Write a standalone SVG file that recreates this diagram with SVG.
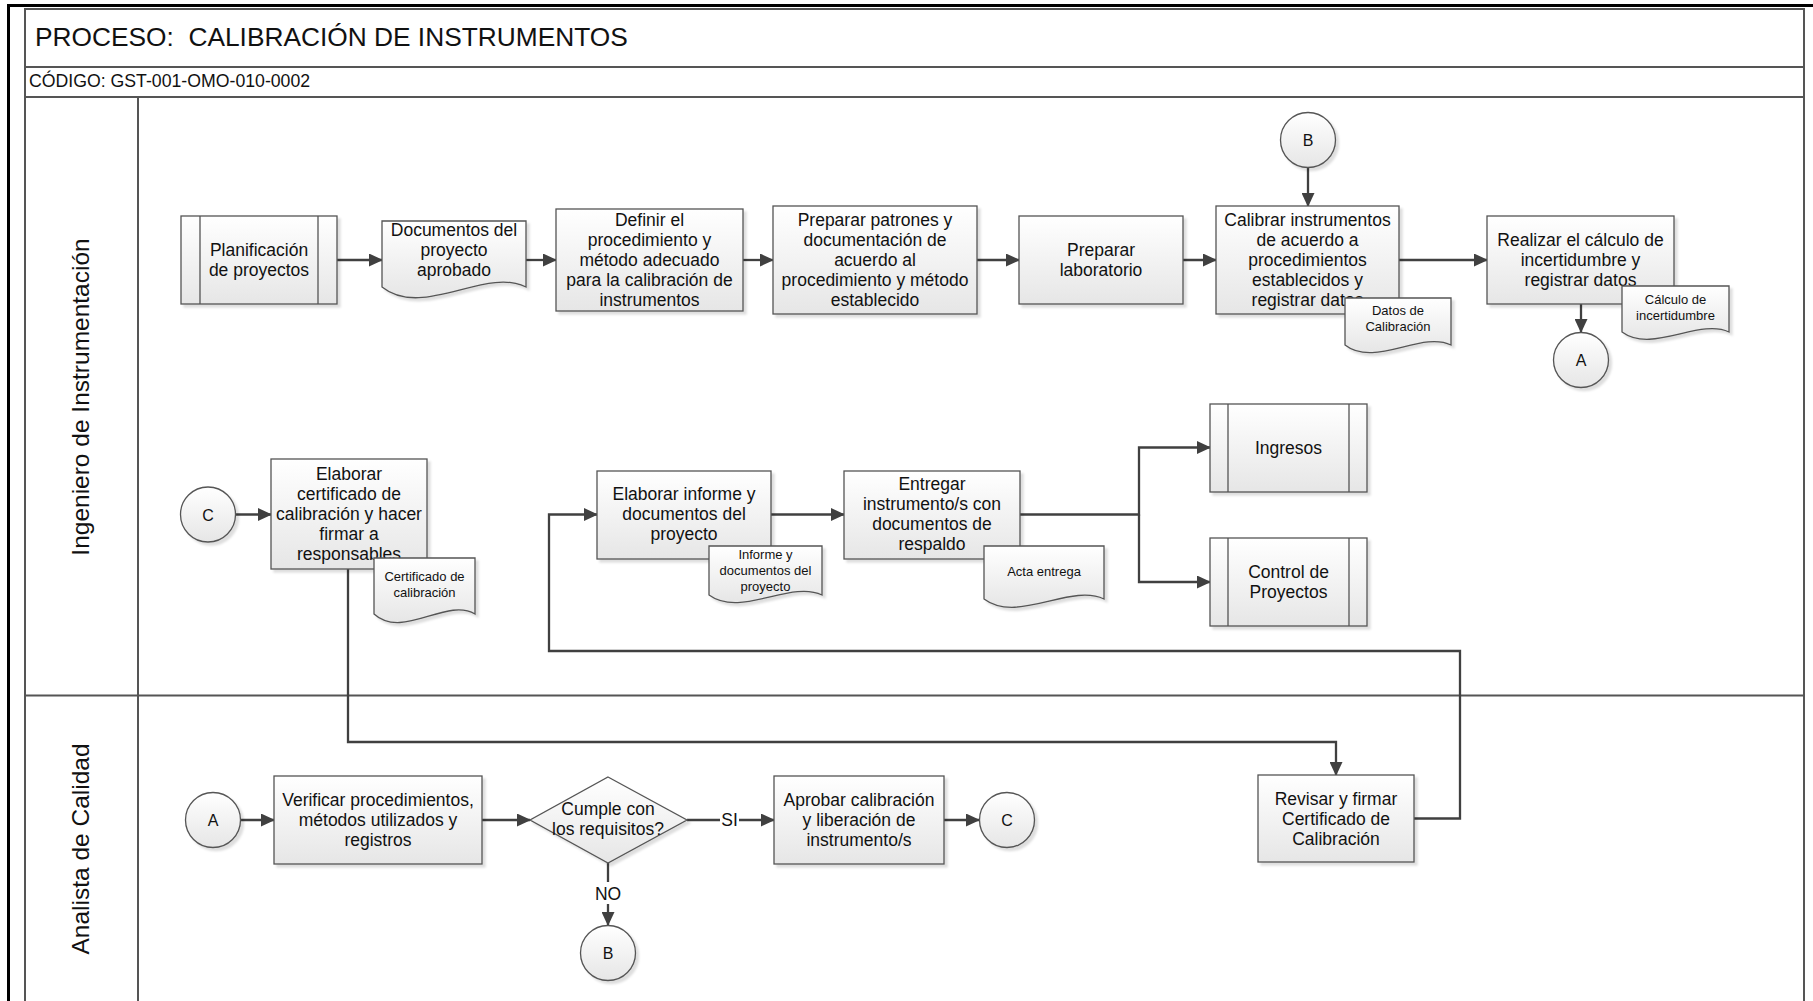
<svg xmlns="http://www.w3.org/2000/svg" width="1813" height="1001" viewBox="0 0 1813 1001">
  <style>
    text { font-family: "Liberation Sans", Arial, sans-serif; fill: #111; }
    .t { font-size: 17.5px; text-anchor: middle; }
    .s { font-size: 13px; text-anchor: middle; }
    .c { font-size: 16px; text-anchor: middle; }
    .lane { font-size: 24.5px; text-anchor: middle; }
    .box { fill: url(#nodeFill); stroke: #555; stroke-width: 1.3; filter: url(#shadow); }
    .inner { stroke: #555; stroke-width: 1.3; fill: none; }
    .frame { stroke: #555; stroke-width: 2; fill: none; }
    .conn { fill: none; stroke: #404040; stroke-width: 2.3; }
    .arr { marker-end: url(#arrow); }
  </style>
  <defs>
    <linearGradient id="nodeFill" x1="0" y1="0" x2="0" y2="1">
      <stop offset="0" stop-color="#ffffff"/>
      <stop offset="1" stop-color="#e6e6e6"/>
    </linearGradient>
    <linearGradient id="headFill" x1="0" y1="0" x2="0" y2="1">
      <stop offset="0" stop-color="#ffffff"/>
      <stop offset="1" stop-color="#ececec"/>
    </linearGradient>
    <linearGradient id="laneFill" x1="0" y1="0" x2="1" y2="0">
      <stop offset="0" stop-color="#ffffff"/>
      <stop offset="1" stop-color="#ececec"/>
    </linearGradient>
    <filter id="shadow" x="-10%" y="-10%" width="130%" height="130%">
      <feDropShadow dx="3" dy="3" stdDeviation="1" flood-color="#000" flood-opacity="0.13"/>
    </filter>
    <marker id="arrow" markerUnits="userSpaceOnUse" markerWidth="14" markerHeight="13" refX="13" refY="6.5" orient="auto">
      <path d="M0,0 L14,6.5 L0,13 Z" fill="#404040"/>
    </marker>
  </defs>

  <rect width="1813" height="1001" fill="#fff"/>

  <!-- outer border -->
  <path d="M8.5,1001 V5.5 H1813" fill="none" stroke="#000" stroke-width="3"/>

  <!-- header -->
  <g id="header">
    <rect x="25" y="9" width="1779" height="58" fill="url(#headFill)" class="frame"/>
    <text x="35" y="46" style="font-size:26.3px; white-space:pre" xml:space="preserve">PROCESO:  CALIBRACIÓN DE INSTRUMENTOS</text>
    <rect x="25" y="67" width="1779" height="30" fill="url(#headFill)" class="frame"/>
    <text x="29" y="87" style="font-size:17.7px">CÓDIGO: GST-001-OMO-010-0002</text>
  </g>

  <!-- swimlanes -->
  <g id="lanes">
    <rect x="25" y="97" width="1779" height="920" class="frame"/>
    <rect x="25" y="97" width="113" height="920" fill="url(#laneFill)" class="frame"/>
    <line x1="25" y1="695.5" x2="1804" y2="695.5" class="frame"/>
    <text class="lane" transform="translate(89,397) rotate(-90)">Ingeniero de Instrumentación</text>
    <text class="lane" transform="translate(89,849) rotate(-90)">Analista de Calidad</text>
  </g>

  <!-- connectors -->
  <g id="connectors">
    <path class="conn arr" d="M337,260 H382"/>
    <path class="conn arr" d="M526,260 H556"/>
    <path class="conn arr" d="M743,260 H773"/>
    <path class="conn arr" d="M977,260 H1019"/>
    <path class="conn arr" d="M1183,260 H1216"/>
    <path class="conn arr" d="M1308,168 V206"/>
    <path class="conn arr" d="M1399,260 H1487"/>
    <path class="conn arr" d="M1581,304 V332"/>
    <path class="conn arr" d="M236,514.5 H271"/>
    <path class="conn arr" d="M348,569 V742 H1336 V775"/>
    <path class="conn arr" d="M771,514.5 H844"/>
    <path class="conn arr" d="M1020,514.5 H1139 V447.5 H1210"/>
    <path class="conn arr" d="M1139,514.5 V582 H1210"/>
    <path class="conn arr" d="M1414,818.5 H1460 V651 H549 V514.5 H597"/>
    <path class="conn arr" d="M241,820 H274"/>
    <path class="conn arr" d="M482,820 H530"/>
    <path class="conn arr" d="M687,820 H774"/>
    <path class="conn arr" d="M944,820 H979"/>
    <path class="conn arr" d="M608,863 V925"/>
    <rect x="720" y="809" width="19" height="22" fill="#fff"/>
    <text class="t" x="729.5" y="826">SI</text>
    <rect x="594" y="882" width="28" height="22" fill="#fff"/>
    <text class="t" x="608" y="900">NO</text>
  </g>

  <!-- lane 1, first row -->
  <g id="planificacion">
    <rect class="box" x="181" y="216" width="156" height="88"/>
    <path class="inner" d="M200,216 V304 M318,216 V304"/>
    <text class="t" x="259" y="256">Planificación</text>
    <text class="t" x="259" y="276">de proyectos</text>
  </g>
  <g id="doc-proyecto-aprobado">
    <path class="box" d="M382,221 H526 V287 C485.7,266.6 422.3,319.3 382,287 Z"/>
    <text class="t" x="454" y="236">Documentos del</text>
    <text class="t" x="454" y="256">proyecto</text>
    <text class="t" x="454" y="276">aprobado</text>
  </g>
  <g id="definir-procedimiento">
    <rect class="box" x="556" y="209" width="187" height="102"/>
    <text class="t" x="649.5" y="226">Definir el</text>
    <text class="t" x="649.5" y="246">procedimiento y</text>
    <text class="t" x="649.5" y="266">método adecuado</text>
    <text class="t" x="649.5" y="286">para la calibración de</text>
    <text class="t" x="649.5" y="306">instrumentos</text>
  </g>
  <g id="preparar-patrones">
    <rect class="box" x="773" y="206" width="204" height="108"/>
    <text class="t" x="875" y="226">Preparar patrones y</text>
    <text class="t" x="875" y="246">documentación de</text>
    <text class="t" x="875" y="266">acuerdo al</text>
    <text class="t" x="875" y="286">procedimiento y método</text>
    <text class="t" x="875" y="306">establecido</text>
  </g>
  <g id="preparar-laboratorio">
    <rect class="box" x="1019" y="216" width="164" height="88"/>
    <text class="t" x="1101" y="256">Preparar</text>
    <text class="t" x="1101" y="276">laboratorio</text>
  </g>
  <g id="conector-b-entrada">
    <circle class="box" cx="1308" cy="140" r="27.5"/>
    <text class="c" x="1308" y="146">B</text>
  </g>
  <g id="calibrar-instrumentos">
    <rect class="box" x="1216" y="206" width="183" height="108"/>
    <text class="t" x="1307.5" y="226">Calibrar instrumentos</text>
    <text class="t" x="1307.5" y="246">de acuerdo a</text>
    <text class="t" x="1307.5" y="266">procedimientos</text>
    <text class="t" x="1307.5" y="286">establecidos y</text>
    <text class="t" x="1307.5" y="306">registrar datos</text>
  </g>
  <g id="doc-datos-calibracion">
    <path class="box" d="M1345,298 H1451 V345 C1421.3,330.5 1374.7,368 1345,345 Z"/>
    <text class="s" x="1398" y="314.5">Datos de</text>
    <text class="s" x="1398" y="330.5">Calibración</text>
  </g>
  <g id="calculo-incertidumbre">
    <rect class="box" x="1487" y="216" width="187" height="88"/>
    <text class="t" x="1580.5" y="246">Realizar el cálculo de</text>
    <text class="t" x="1580.5" y="266">incertidumbre y</text>
    <text class="t" x="1580.5" y="286">registrar datos</text>
  </g>
  <g id="doc-calculo-incertidumbre">
    <path class="box" d="M1622,286 H1729 V332 C1699,318 1652,354 1622,332 Z"/>
    <text class="s" x="1675.5" y="303.5">Cálculo de</text>
    <text class="s" x="1675.5" y="319.5">incertidumbre</text>
  </g>
  <g id="conector-a-salida">
    <circle class="box" cx="1581" cy="360" r="27.5"/>
    <text class="c" x="1581" y="366">A</text>
  </g>

  <!-- lane 1, second row -->
  <g id="conector-c-entrada">
    <circle class="box" cx="208" cy="514.5" r="27.5"/>
    <text class="c" x="208" y="520.5">C</text>
  </g>
  <g id="elaborar-certificado">
    <rect class="box" x="271" y="459" width="156" height="110"/>
    <text class="t" x="349" y="480">Elaborar</text>
    <text class="t" x="349" y="500">certificado de</text>
    <text class="t" x="349" y="520">calibración y hacer</text>
    <text class="t" x="349" y="540">firmar a</text>
    <text class="t" x="349" y="560">responsables</text>
  </g>
  <g id="doc-certificado">
    <path class="box" d="M374,558 H475 V614 C446.3,597 402.7,640 374,614 Z"/>
    <text class="s" x="424.5" y="580.5">Certificado de</text>
    <text class="s" x="424.5" y="596.5">calibración</text>
  </g>
  <g id="elaborar-informe">
    <rect class="box" x="597" y="471" width="174" height="88"/>
    <text class="t" x="684" y="500">Elaborar informe y</text>
    <text class="t" x="684" y="520">documentos del</text>
    <text class="t" x="684" y="540">proyecto</text>
  </g>
  <g id="doc-informe">
    <path class="box" d="M709,546 H822 V595 C790.4,580 740.6,618 709,595 Z"/>
    <text class="s" x="765.5" y="558.5">Informe y</text>
    <text class="s" x="765.5" y="574.5">documentos del</text>
    <text class="s" x="765.5" y="590.5">proyecto</text>
  </g>
  <g id="entregar-instrumentos">
    <rect class="box" x="844" y="471" width="176" height="88"/>
    <text class="t" x="932" y="490">Entregar</text>
    <text class="t" x="932" y="510">instrumento/s con</text>
    <text class="t" x="932" y="530">documentos de</text>
    <text class="t" x="932" y="550">respaldo</text>
  </g>
  <g id="doc-acta-entrega">
    <path class="box" d="M984,546 H1104 V599 C1070.4,583 1017.6,624 984,599 Z"/>
    <text class="s" x="1044" y="575.5">Acta entrega</text>
  </g>
  <g id="ingresos">
    <rect class="box" x="1210" y="404" width="157" height="88"/>
    <path class="inner" d="M1228,404 V492 M1349,404 V492"/>
    <text class="t" x="1288.5" y="454">Ingresos</text>
  </g>
  <g id="control-proyectos">
    <rect class="box" x="1210" y="538" width="157" height="88"/>
    <path class="inner" d="M1228,538 V626 M1349,538 V626"/>
    <text class="t" x="1288.5" y="578">Control de</text>
    <text class="t" x="1288.5" y="598">Proyectos</text>
  </g>

  <!-- lane 2 -->
  <g id="conector-a-entrada">
    <circle class="box" cx="213" cy="820" r="27.5"/>
    <text class="c" x="213" y="826">A</text>
  </g>
  <g id="verificar-procedimientos">
    <rect class="box" x="274" y="776" width="208" height="88"/>
    <text class="t" x="378" y="806">Verificar procedimientos,</text>
    <text class="t" x="378" y="826">métodos utilizados y</text>
    <text class="t" x="378" y="846">registros</text>
  </g>
  <g id="decision-requisitos">
    <path class="box" d="M608,777 L687,820 L608,863 L530,820 Z"/>
    <text class="t" x="608" y="815">Cumple con</text>
    <text class="t" x="608" y="835">los requisitos?</text>
  </g>
  <g id="aprobar-calibracion">
    <rect class="box" x="774" y="776" width="170" height="88"/>
    <text class="t" x="859" y="806">Aprobar calibración</text>
    <text class="t" x="859" y="826">y liberación de</text>
    <text class="t" x="859" y="846">instrumento/s</text>
  </g>
  <g id="conector-c-salida">
    <circle class="box" cx="1007" cy="820" r="27.5"/>
    <text class="c" x="1007" y="826">C</text>
  </g>
  <g id="conector-b-salida">
    <circle class="box" cx="608" cy="953" r="27.5"/>
    <text class="c" x="608" y="959">B</text>
  </g>
  <g id="revisar-certificado">
    <rect class="box" x="1258" y="775" width="156" height="87"/>
    <text class="t" x="1336" y="804.5">Revisar y firmar</text>
    <text class="t" x="1336" y="824.5">Certificado de</text>
    <text class="t" x="1336" y="844.5">Calibración</text>
  </g>
</svg>
